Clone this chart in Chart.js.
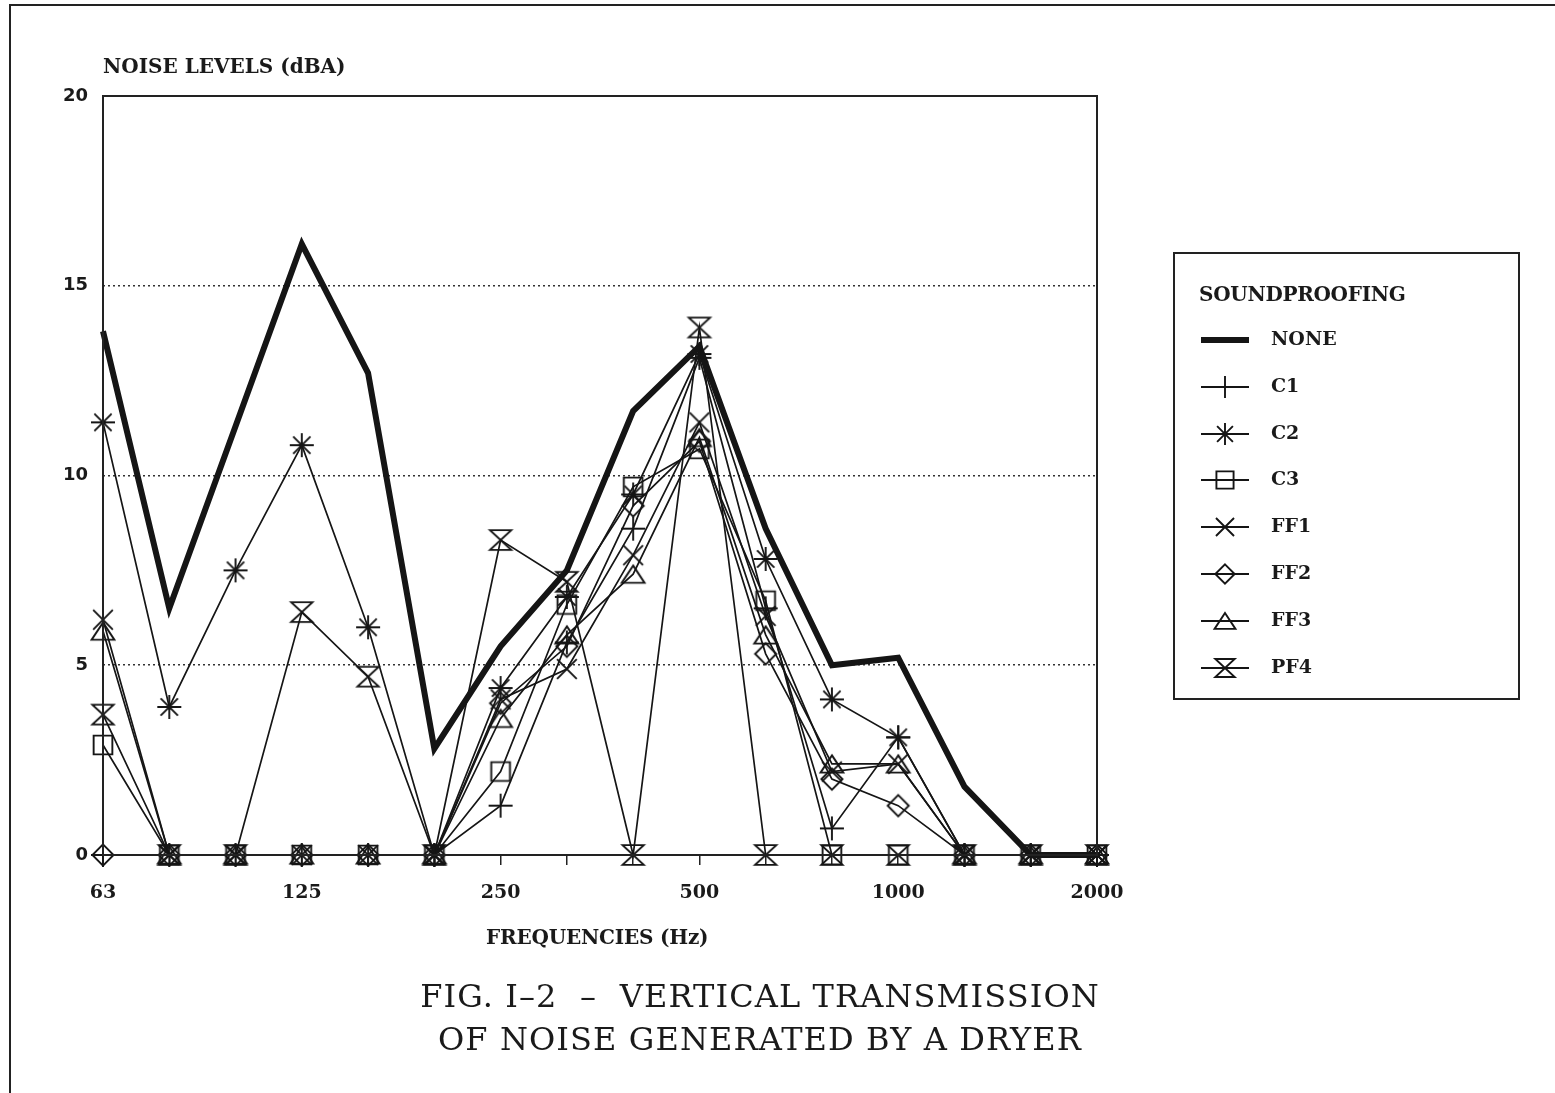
<!DOCTYPE html>
<html>
<head>
<meta charset="utf-8">
<script src="https://cdn.jsdelivr.net/npm/chart.js@4.4.1/dist/chart.umd.min.js"></script>
<style>
  html, body { margin:0; padding:0; background:#fff; }
  body { width:1555px; height:1093px; position:relative; overflow:hidden; }
  #frame { position:absolute; left:9px; top:4px; width:1560px; height:1100px; border-left:2px solid #222; border-top:2px solid #222; }
  #c { position:absolute; left:0; top:0; }
  .lbl { position:absolute; font-family:"DejaVu Serif", serif; font-weight:bold; color:#1a1a1a; white-space:nowrap; }
  #ytitle { left:103px; top:54px; font-size:20px; letter-spacing:0px; }
  #xtitle { left:486px; top:925px; font-size:20px; letter-spacing:-0.2px; }
  .cap { position:absolute; left:0; width:1520px; text-align:center; font-family:"DejaVu Serif", serif; font-size:32px; color:#1a1a1a; letter-spacing:1.1px; white-space:pre; }
  #legend { position:absolute; left:1173px; top:252px; width:343px; height:444px; border:2px solid #222; }
  #legend .t { position:absolute; left:24px; top:28px; font-family:"DejaVu Serif", serif; font-weight:bold; font-size:20px; letter-spacing:-0.3px; color:#1a1a1a; }
  #legend .row { position:absolute; left:24px; height:30px; }
  #legend .row canvas { position:absolute; left:0; top:0; }
  #legend .row span { position:absolute; left:72px; top:2px; font-family:"DejaVu Serif", serif; font-weight:bold; font-size:19px; letter-spacing:0px; color:#1a1a1a; }
</style>
</head>
<body>
<div id="frame"></div>
<canvas id="c" width="1555" height="1093"></canvas>
<div class="lbl" id="ytitle">NOISE LEVELS (dBA)</div>
<div class="lbl" id="xtitle">FREQUENCIES (Hz)</div>
<div class="cap" style="top:977px;">FIG. I–2  –  VERTICAL TRANSMISSION</div>
<div class="cap" style="top:1020px;">OF NOISE GENERATED BY A DRYER</div>
<div id="legend"><div class="t">SOUNDPROOFING</div></div>
<script>
// ---- data ----
const categories = ['63','80','100','125','160','200','250','315','400','500','630','800','1000','1250','1600','2000'];
const tickLabels = ['63','125','250','500','1000','2000'];
const yTicks = [0, 5, 10, 15, 20];
const seriesNames = ['NONE','C1','C2','C3','FF1','FF2','FF3','PF4'];
const none = [13.8, 6.5, 11.3, 16.1, 12.7, 2.8, 5.5, 7.5, 11.7, 13.4, 8.6, 5.0, 5.2, 1.8, 0, 0];
const c1   = [0, 0, 0, 0, 0, 0, 1.3, 5.6, 8.6, 13.1, 6.5, 0.7, 3.1, 0, 0, 0];
const c2   = [11.4, 3.9, 7.5, 10.8, 6.0, 0, 4.4, 6.8, 9.5, 13.2, 7.8, 4.1, 3.1, 0, 0, 0];
const c3   = [2.9, 0, 0, 0, 0, 0, 2.2, 6.6, 9.7, 10.7, 6.7, 0, 0, 0, 0, 0];
const ff1  = [6.2, 0, 0, 0, 0, 0, 4.1, 4.9, 7.9, 11.4, 6.3, 2.2, 2.4, 0, 0, 0];
const ff2  = [0, 0, 0, 0, 0, 0, 4.0, 5.5, 9.2, 10.9, 5.3, 2.0, 1.3, 0, 0, 0];
const ff3  = [5.9, 0, 0, 0, 0, 0, 3.6, 5.8, 7.4, 11.0, 5.8, 2.4, 2.4, 0, 0, 0];
const pf4  = [3.7, 0, 0, 6.4, 4.7, 0, 8.3, 7.2, 0, 13.9, 0, 0, 0, 0, 0, 0];
const markerTypes = [null, 'plus', 'star', 'square', 'x', 'diamond', 'triangle', 'hourglass'];

const INK = '#151515';

function drawShape(ctx, type, cx, cy, s) {
  ctx.beginPath();
  if (type === 'plus') {
    ctx.moveTo(cx - s, cy); ctx.lineTo(cx + s, cy);
    ctx.moveTo(cx, cy - s); ctx.lineTo(cx, cy + s);
  } else if (type === 'star') {
    ctx.moveTo(cx - s, cy); ctx.lineTo(cx + s, cy);
    ctx.moveTo(cx, cy - s); ctx.lineTo(cx, cy + s);
    const d = s * 0.72;
    ctx.moveTo(cx - d, cy - d); ctx.lineTo(cx + d, cy + d);
    ctx.moveTo(cx + d, cy - d); ctx.lineTo(cx - d, cy + d);
  } else if (type === 'square') {
    const d = s * 0.78;
    ctx.rect(cx - d, cy - d, 2 * d, 2 * d);
  } else if (type === 'x') {
    const d = s * 0.82;
    ctx.moveTo(cx - d, cy - d); ctx.lineTo(cx + d, cy + d);
    ctx.moveTo(cx + d, cy - d); ctx.lineTo(cx - d, cy + d);
  } else if (type === 'diamond') {
    const d = s * 0.88;
    ctx.moveTo(cx, cy - d); ctx.lineTo(cx + d, cy); ctx.lineTo(cx, cy + d); ctx.lineTo(cx - d, cy); ctx.closePath();
  } else if (type === 'triangle') {
    const w = s * 0.95, h = s * 0.72;
    ctx.moveTo(cx, cy - h); ctx.lineTo(cx + w, cy + h); ctx.lineTo(cx - w, cy + h); ctx.closePath();
  } else if (type === 'hourglass') {
    const w = s * 0.88, h = s * 0.82;
    ctx.moveTo(cx - w, cy - h); ctx.lineTo(cx + w, cy - h); ctx.lineTo(cx - w, cy + h); ctx.lineTo(cx + w, cy + h); ctx.closePath();
  }
  ctx.stroke();
}

function makeMarker(type) {
  const cv = document.createElement('canvas');
  cv.width = 30; cv.height = 30;
  const ctx = cv.getContext('2d');
  ctx.strokeStyle = INK; ctx.lineWidth = 1.9;
  drawShape(ctx, type, 15, 15, 12);
  return cv;
}

function makeLegendIcon(type) {
  const cv = document.createElement('canvas');
  cv.width = 52; cv.height = 30;
  const ctx = cv.getContext('2d');
  ctx.strokeStyle = INK; ctx.fillStyle = INK;
  if (!type) {
    ctx.fillRect(2, 12, 48, 6);
  } else {
    ctx.lineWidth = 1.9;
    ctx.beginPath(); ctx.moveTo(2, 15); ctx.lineTo(50, 15); ctx.stroke();
    drawShape(ctx, type, 26, 15, 11);
  }
  return cv;
}

const allData = [none, c1, c2, c3, ff1, ff2, ff3, pf4];
const datasets = allData.map((d, i) => ({
  label: seriesNames[i],
  data: d,
  borderColor: INK,
  backgroundColor: 'transparent',
  borderWidth: i === 0 ? 6 : 1.7,
  pointStyle: markerTypes[i] ? makeMarker(markerTypes[i]) : false,
  pointRadius: markerTypes[i] ? 12 : 0,
  pointHoverRadius: markerTypes[i] ? 12 : 0,
  tension: 0,
  borderJoinStyle: 'miter',
  clip: false
}));

// Legend (HTML)
const legend = document.getElementById('legend');
seriesNames.forEach((n, i) => {
  const row = document.createElement('div');
  row.className = 'row';
  row.style.top = (71 + i * 46.8) + 'px';
  row.appendChild(makeLegendIcon(markerTypes[i]));
  const sp = document.createElement('span');
  sp.textContent = n;
  row.appendChild(sp);
  legend.appendChild(row);
});

const frameBox = {
  id: 'frameBox',
  afterDatasetsDraw(chart) {
    const a = chart.chartArea, ctx = chart.ctx;
    ctx.save();
    ctx.strokeStyle = '#222'; ctx.lineWidth = 2;
    ctx.strokeRect(a.left, a.top, a.right - a.left, a.bottom - a.top);
    ctx.restore();
  }
};

new Chart(document.getElementById('c'), {
  type: 'line',
  data: { labels: categories, datasets },
  plugins: [frameBox],
  options: {
    responsive: false,
    animation: false,
    devicePixelRatio: 1,
    layout: { padding: { left: 0, top: 96, right: 458, bottom: 178 } },
    plugins: { legend: { display: false }, tooltip: { enabled: false } },
    scales: {
      x: {
        type: 'category',
        offset: false,
        afterFit: s => { s.height = 60; },
        grid: { drawOnChartArea: false, drawTicks: true, tickLength: 10, color: '#222', lineWidth: 1.5 },
        border: { display: false },
        ticks: {
          autoSkip: false, maxRotation: 0, padding: 17, color: '#1a1a1a',
          font: { family: 'DejaVu Serif', weight: 'bold', size: 19 },
          callback: function(v, i) { const l = categories[i]; return tickLabels.includes(l) ? l : ''; }
        }
      },
      y: {
        min: 0, max: 20,
        afterFit: s => { s.width = 103; },
        afterBuildTicks: s => { s.ticks = yTicks.map(v => ({ value: v })); },
        grid: {
          drawTicks: false,
          color: c => (c.tick && (c.tick.value === 0 || c.tick.value === 20)) ? 'rgba(0,0,0,0)' : '#333',
          lineWidth: 1.6
        },
        border: { display: false, dash: [2, 3] },
        ticks: {
          padding: 15, color: '#1a1a1a',
          font: { family: 'DejaVu Sans', weight: 'bold', size: 18 }
        }
      }
    }
  }
});
</script>
</body>
</html>
